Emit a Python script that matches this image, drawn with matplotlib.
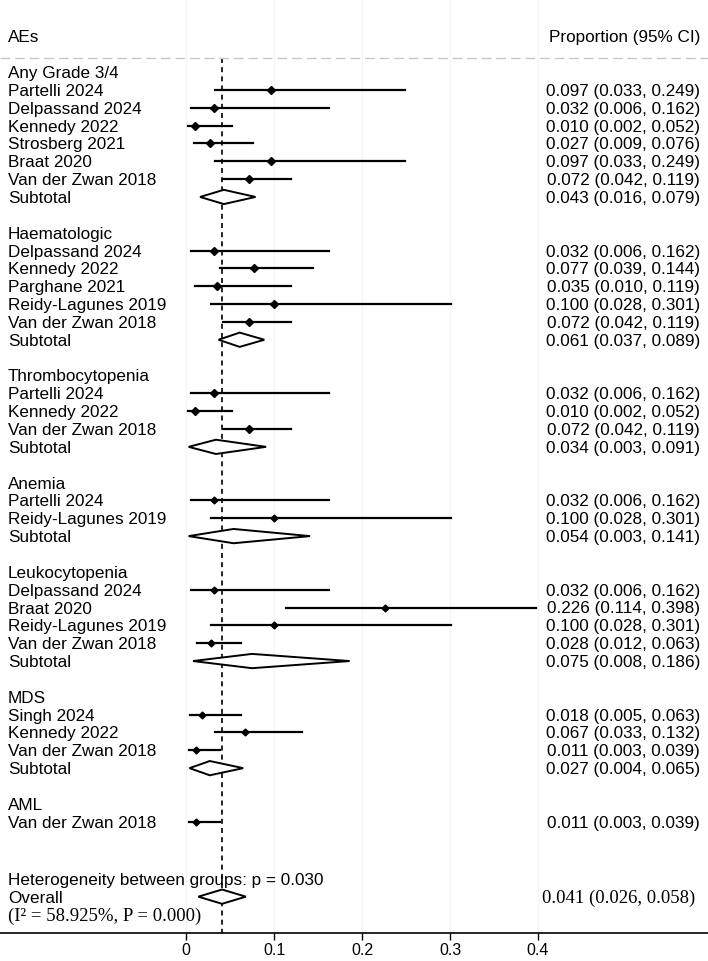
import numpy as np
import matplotlib.pyplot as plt

plt.rcParams['font.family'] = ['Liberation Sans', 'DejaVu Sans']

# Datos del forest plot (proporciones y IC 95%)
groups = ["Any Grade 3/4", "Haematologic", "Thrombocytopenia", "Anemia",
          "Leukocytopenia", "MDS", "AML"]

studies = [
    ["Partelli 2024", "Delpassand 2024", "Kennedy 2022", "Strosberg 2021", "Braat 2020", "Van der Zwan 2018"],
    ["Delpassand 2024", "Kennedy 2022", "Parghane 2021", "Reidy-Lagunes 2019", "Van der Zwan 2018"],
    ["Partelli 2024", "Kennedy 2022", "Van der Zwan 2018"],
    ["Partelli 2024", "Reidy-Lagunes 2019"],
    ["Delpassand 2024", "Braat 2020", "Reidy-Lagunes 2019", "Van der Zwan 2018"],
    ["Singh 2024", "Kennedy 2022", "Van der Zwan 2018"],
    ["Van der Zwan 2018"],
]
est = [
    [0.097, 0.032, 0.010, 0.027, 0.097, 0.072],
    [0.032, 0.077, 0.035, 0.100, 0.072],
    [0.032, 0.010, 0.072],
    [0.032, 0.100],
    [0.032, 0.226, 0.100, 0.028],
    [0.018, 0.067, 0.011],
    [0.011],
]
lo = [
    [0.033, 0.006, 0.002, 0.009, 0.033, 0.042],
    [0.006, 0.039, 0.010, 0.028, 0.042],
    [0.006, 0.002, 0.042],
    [0.006, 0.028],
    [0.006, 0.114, 0.028, 0.012],
    [0.005, 0.033, 0.003],
    [0.003],
]
hi = [
    [0.249, 0.162, 0.052, 0.076, 0.249, 0.119],
    [0.162, 0.144, 0.119, 0.301, 0.119],
    [0.162, 0.052, 0.119],
    [0.162, 0.301],
    [0.162, 0.398, 0.301, 0.063],
    [0.063, 0.132, 0.039],
    [0.039],
]
sub_est = [0.043, 0.061, 0.034, 0.054, 0.075, 0.027, None]
sub_lo = [0.016, 0.037, 0.003, 0.003, 0.008, 0.004, None]
sub_hi = [0.079, 0.089, 0.091, 0.141, 0.186, 0.065, None]

overall_est = 0.041
overall_lo = 0.026
overall_hi = 0.058
# el rombo dibujado en la figura es algo más ancho que el IC del texto
overall_lo_drawn = 0.014
overall_hi_drawn = 0.068
het_p = 0.030
i2 = 58.925
i2_p = 0.000

# Geometría (pixeles de la figura)
W, H = 708, 961
px0, ppu = 186, 880       # x del 0 y pixeles por unidad
y0, dy = 72, 17.85        # primera fila y separación
y_axis = 933

fig = plt.figure(figsize=(W / 100, H / 100), dpi=100)
ax = fig.add_axes([0, (H - y_axis) / H, 1, y_axis / H])
ax.set_xlim(-px0 / ppu, (W - px0) / ppu)
ax.set_ylim((y_axis - y0) / dy, (0 - y0) / dy)

tr = ax.get_yaxis_transform()
xl = 8 / W
xr = 700 / W
fs = 12.3


def diamond(ax, c, l, h, y, hh=0.4):
    ax.fill([l, c, h, c, l], [y, y - hh, y, y + hh, y], facecolor='white',
            edgecolor='black', lw=1.4, zorder=3)


# Encabezado
ax.text(xl, -2, "AEs", transform=tr, fontsize=fs, va='center_baseline')
ax.text(xr, -2, "Proportion (95% CI)", transform=tr, fontsize=fs, va='center_baseline', ha='right')
ax.plot([0, 1], [-0.8, -0.8], transform=tr, color='#c8c8c8', lw=1,
        dashes=(7, 3.5), clip_on=False)

row = 0
for g in range(len(groups)):
    ax.text(xl, row, groups[g], transform=tr, fontsize=fs, va='center_baseline')
    row += 1
    ms = 4.5 if g < 3 else 3.5
    for k in range(len(studies[g])):
        ax.text(xl, row, studies[g][k], transform=tr, fontsize=fs, va='center_baseline')
        ax.plot([lo[g][k], hi[g][k]], [row, row], color='black', lw=1.6, zorder=2)
        ax.plot(est[g][k], row, marker='D', ms=ms, color='black', zorder=4)
        ax.text(xr, row, "{:.3f} ({:.3f}, {:.3f})".format(est[g][k], lo[g][k], hi[g][k]),
                transform=tr, fontsize=fs, va='center_baseline', ha='right')
        row += 1
    if sub_est[g] is not None:
        ax.text(xl, row, "Subtotal", transform=tr, fontsize=fs, va='center_baseline')
        diamond(ax, sub_est[g], sub_lo[g], sub_hi[g], row)
        ax.text(xr, row, "{:.3f} ({:.3f}, {:.3f})".format(sub_est[g], sub_lo[g], sub_hi[g]),
                transform=tr, fontsize=fs, va='center_baseline', ha='right')
        row += 1
    row += 1

# Global
yo = row + 2.2
ax.text(xl, yo - 1, "Heterogeneity between groups: p = {:.3f}".format(het_p), transform=tr,
        fontsize=fs, va='center_baseline')
ax.text(xl, yo, "Overall", transform=tr, fontsize=fs, va='center_baseline')
ax.text(xl, yo + 1, "(I\u00b2 = {:.3f}%, P = {:.3f})".format(i2, i2_p), transform=tr,
        fontsize=13.5, va='center_baseline', family=['Liberation Serif', 'DejaVu Serif'])
diamond(ax, overall_est, overall_lo_drawn, overall_hi_drawn, yo)
ax.text(695 / W, yo, "{:.3f} ({:.3f}, {:.3f})".format(overall_est, overall_lo, overall_hi),
        transform=tr, fontsize=13.5, va='center_baseline', ha='right',
        family=['Liberation Serif', 'DejaVu Serif'])

# Línea vertical del efecto global
ax.plot([overall_est, overall_est], [-0.8, (y_axis - y0) / dy], color='black', lw=1.2,
        dashes=(3, 2.5), zorder=1)

# Eje x
ax.set_xticks([0, 0.1, 0.2, 0.3, 0.4])
ax.set_xticklabels(['0', '0.1', '0.2', '0.3', '0.4'])
ax.tick_params(axis='x', length=5, width=1, pad=2, labelsize=11.5)
ax.set_yticks([])
for s in ['top', 'left', 'right']:
    ax.spines[s].set_visible(False)
ax.spines['bottom'].set_linewidth(1.2)
ax.grid(axis='x', color='#f5f5f5', lw=0.8)
ax.set_axisbelow(True)

fig.savefig('out.png', dpi=100)
